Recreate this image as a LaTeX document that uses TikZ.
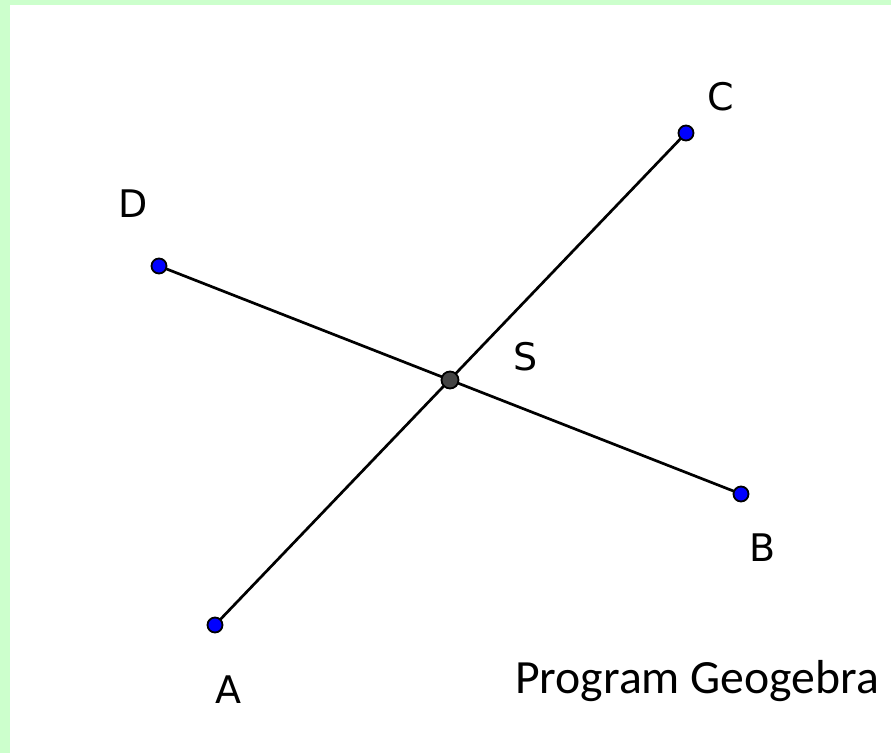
\documentclass[tikz,border=0pt]{standalone}
\usepackage{fontspec}
\newfontfamily\capfont{Carlito}
\newfontfamily\labfont{DejaVu Sans}
\definecolor{bggreen}{HTML}{CCFFCC}
\definecolor{ptblue}{HTML}{0000FF}
\definecolor{sgray}{HTML}{444444}
\begin{document}
\begin{tikzpicture}[x=1pt,y=-1pt,
  ptdot/.style={circle,fill=ptblue,draw=black,line width=1.8pt,inner sep=0pt,minimum size=15pt},
  sdot/.style={circle,fill=sgray,draw=black,line width=1.8pt,inner sep=0pt,minimum size=17pt},
  lab/.style={inner sep=0pt,font=\labfont\fontsize{38}{42}\selectfont},
  seg/.style={line width=2.7pt,black}]
\useasboundingbox (0,0) rectangle (891,753);
\fill[bggreen] (0,0) rectangle (891,5);
\fill[bggreen] (0,0) rectangle (10,753);
\coordinate (A) at (215,625);
\coordinate (B) at (741,494);
\coordinate (C) at (686,133);
\coordinate (D) at (159,266);
\coordinate (S) at (450,380);
\draw[seg] (A) -- (C);
\draw[seg] (D) -- (B);
\node[ptdot] (pA) at (A) {};
\node[ptdot] (pB) at (B) {};
\node[ptdot] (pC) at (C) {};
\node[ptdot] (pD) at (D) {};
\node[sdot] (pS) at (S) {};
\node[lab] (lA) at (228,690) {A};
\node[lab] (lB) at (763,548) {B};
\node[lab] (lC) at (721,97) {C};
\node[lab] (lD) at (133,204) {D};
\node[lab] (lS) at (526,357) {S};
\node[anchor=base west,inner sep=0pt,font=\capfont\fontsize{47.7}{52}\selectfont] (cap) at (515,693) {Program Geogebra};
\end{tikzpicture}
\end{document}
